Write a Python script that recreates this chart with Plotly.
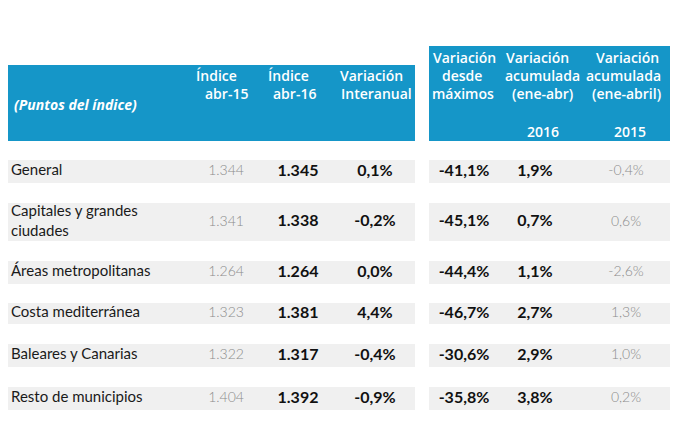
import plotly.graph_objects as go

categories = ["General", "Capitales y grandes<br>ciudades", "Áreas metropolitanas",
              "Costa mediterránea", "Baleares y Canarias", "Resto de municipios"]
indice_abr15 = ["1.344", "1.341", "1.264", "1.323", "1.322", "1.404"]
indice_abr16 = ["1.345", "1.338", "1.264", "1.381", "1.317", "1.392"]
var_interanual = ["0,1%", "-0,2%", "0,0%", "4,4%", "-0,4%", "-0,9%"]
var_maximos = ["-41,1%", "-45,1%", "-44,4%", "-46,7%", "-30,6%", "-35,8%"]
acum_2016 = ["1,9%", "0,7%", "1,1%", "2,7%", "2,9%", "3,8%"]
acum_2015 = ["-0,4%", "0,6%", "-2,6%", "1,3%", "1,0%", "0,2%"]

W, H = 693, 431
OFF = 8  # page body margin
BLUE = "#1596C8"
GREY_BG = "#F0F0F0"
FONT = "Lato"
HFONT = "Open Sans"

# layout geometry (window pixels)
row_bands = [(160, 183), (203, 241), (261, 284), (303, 324), (344, 367), (387, 410)]
row_y = [(a + b) / 2 for a, b in row_bands]
left_box = (6, 415)
right_box = (429, 670)

fig = go.Figure()
shapes = []
shapes.append(dict(type="rect", xref="x", yref="y", x0=left_box[0], x1=left_box[1],
                   y0=65, y1=141, fillcolor=BLUE, line_width=0, layer="below"))
shapes.append(dict(type="rect", xref="x", yref="y", x0=right_box[0], x1=right_box[1],
                   y0=46, y1=141, fillcolor=BLUE, line_width=0, layer="below"))
for a, b in row_bands:
    for x0, x1 in (left_box, right_box):
        shapes.append(dict(type="rect", xref="x", yref="y", x0=x0, x1=x1, y0=a, y1=b,
                           fillcolor=GREY_BG, line_width=0, layer="below"))

def col(x, texts, color, weight, anchor="middle center", size=14, family=FONT):
    fig.add_trace(go.Scatter(
        x=[x] * len(texts), y=row_y, mode="text", text=texts,
        textposition=anchor, hoverinfo="skip", showlegend=False,
        textfont=dict(family=family, size=size, color=color, weight=weight)))

col(11, categories, "#1a1a1a", "normal", anchor="middle right", size=15)
col(226, indice_abr15, "#8c8c8c", 300, size=14)
col(298, indice_abr16, "#111111", "bold", size=16)
col(375, var_interanual, "#111111", "bold", size=16)
col(464, var_maximos, "#111111", "bold", size=16)
col(535, acum_2016, "#111111", "bold", size=16)
col(626, acum_2015, "#8c8c8c", 300, size=14)

annotations = []
def hdr(x, y, text, xanchor="center", italic=False, size=14):
    annotations.append(dict(x=x, y=y, xref="x", yref="y", text=text, showarrow=False,
                            xanchor=xanchor, yanchor="middle",
                            font=dict(family=HFONT, size=size, color="white", weight=600,
                                      style="italic" if italic else "normal")))

hdr(12, 104, "<b><i>(Puntos del índice)</i></b>", xanchor="left", size=14)
hdr(216, 75, "Índice"); hdr(226, 93, "abr-15")
hdr(288, 75, "Índice"); hdr(294, 93, "abr-16")
hdr(371, 75, "Variación"); hdr(376, 93, "Interanual")
hdr(464, 57, "Variación"); hdr(462, 75, "desde"); hdr(463, 93, "máximos")
hdr(537, 57, "Variación"); hdr(542, 75, "acumulada"); hdr(542, 93, "(ene-abr)"); hdr(543, 131, "2016")
hdr(627, 57, "Variación"); hdr(623, 75, "acumulada"); hdr(626, 93, "(ene-abril)"); hdr(630, 131, "2015")

fig.update_layout(
    width=W - OFF, height=H - OFF, margin=dict(l=0, r=0, t=0, b=0),
    paper_bgcolor="white", plot_bgcolor="white",
    xaxis=dict(range=[OFF, W], visible=False, fixedrange=True),
    yaxis=dict(range=[H, OFF], visible=False, fixedrange=True),
    shapes=shapes, annotations=annotations,
)
fig.write_html("out.html", config={"displayModeBar": False})
